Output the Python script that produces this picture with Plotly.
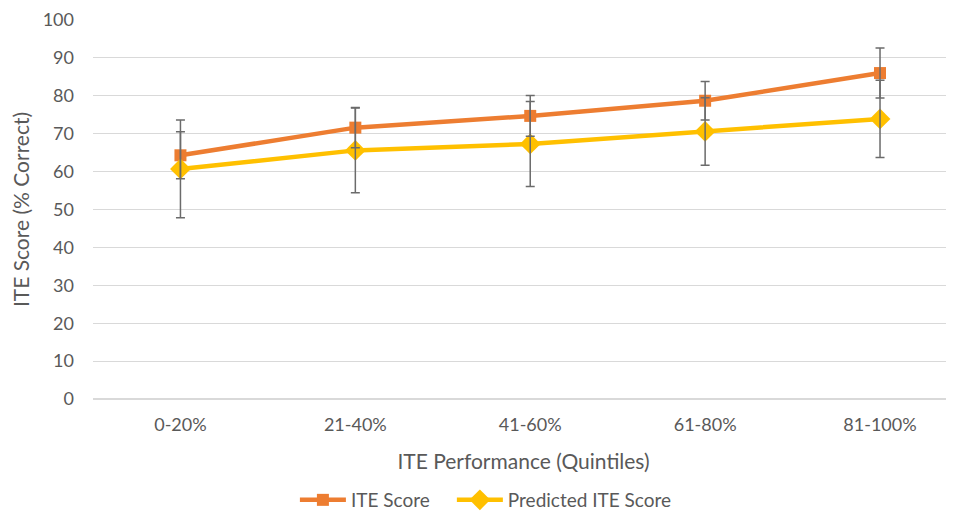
import plotly.graph_objects as go

categories = ["0-20%", "21-40%", "41-60%", "61-80%", "81-100%"]
ite_score = [64.3, 71.6, 74.7, 78.7, 86.0]
ite_err = [6.2, 5.3, 5.4, 5.1, 6.6]
pred_score = [60.7, 65.6, 67.3, 70.6, 73.9]
pred_err = [12.9, 11.2, 11.2, 8.9, 10.2]

ORANGE = "#ED7D31"
YELLOW = "#FFC000"
GRAY = "#595959"
FONT = "Lato"

fig = go.Figure()
fig.add_trace(go.Scatter(
    x=categories, y=ite_score, name="ITE Score", mode="lines+markers",
    line=dict(color=ORANGE, width=4.5),
    marker=dict(symbol="square", size=12, color=ORANGE),
    legend="legend",
))
fig.add_trace(go.Scatter(
    x=categories, y=pred_score, name="Predicted ITE Score", mode="lines+markers",
    line=dict(color=YELLOW, width=4.5),
    marker=dict(symbol="diamond", size=16, color=YELLOW),
    legend="legend2",
))
# error bars drawn on top
for vals, errs in ((ite_score, ite_err), (pred_score, pred_err)):
    fig.add_trace(go.Scatter(
        x=categories, y=vals, mode="markers", showlegend=False, hoverinfo="skip",
        marker=dict(size=1, opacity=0),
        error_y=dict(type="data", array=errs, visible=True, color="#6b6b6b",
                     thickness=1.5, width=4.5),
    ))

legend_common = dict(orientation="h", y=-0.2665, yanchor="middle", xanchor="left",
                     font=dict(size=19, color=GRAY), itemwidth=46,
                     bgcolor="rgba(0,0,0,0)")

# page body has an 8px default margin, so the figure is shifted by 8px
fig.update_layout(
    width=946, height=503,
    margin=dict(l=84.5, r=0, t=12, b=112, autoexpand=False),
    plot_bgcolor="white", paper_bgcolor="white",
    font=dict(family=FONT, color=GRAY, size=18),
    showlegend=True,
    legend=dict(x=0.2345, **legend_common),
    legend2=dict(x=0.4168, **legend_common),
    xaxis=dict(
        type="category", range=[-0.5, 4.423], showgrid=False, zeroline=False,
        showline=False, ticks="", tickfont=dict(size=18, color=GRAY),
        ticklabelstandoff=13, automargin=False,
        title=dict(text="ITE Performance (Quintiles)", font=dict(size=21, color=GRAY), standoff=20),
    ),
    yaxis=dict(
        range=[0, 100], dtick=10, showgrid=True, gridcolor="#D9D9D9", gridwidth=1,
        zeroline=True, zerolinecolor="#D9D9D9", zerolinewidth=1.5, showline=False,
        tickfont=dict(size=18, color=GRAY), ticks="", ticklabelstandoff=18,
        automargin=False,
        title=dict(text="ITE Score (% Correct)", font=dict(size=21, color=GRAY), standoff=7),
    ),
)

fig.write_html("out.html")
